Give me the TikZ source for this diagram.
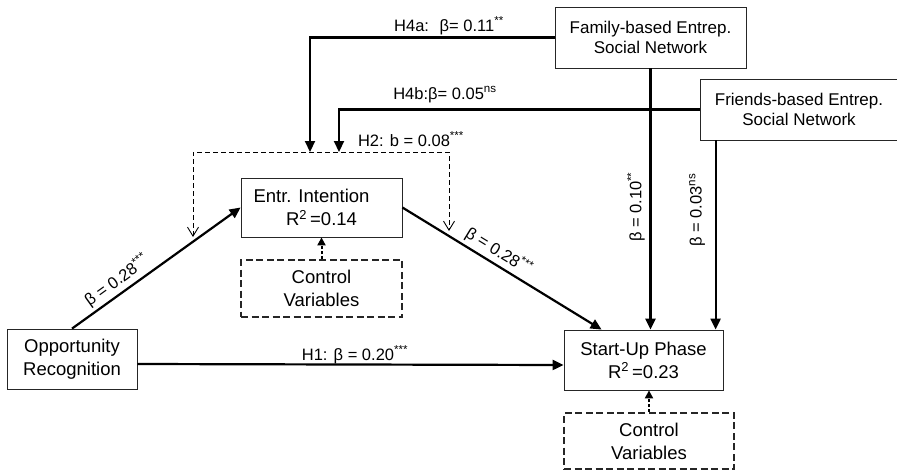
\documentclass[tikz,border=0pt]{standalone}
\usepackage{fontspec}
\setmainfont{Liberation Sans}
\usetikzlibrary{arrows.meta,calc}
\begin{document}
\begin{tikzpicture}[x=1pt,y=-1pt,
  box/.style={draw=black!85, line width=0.8pt, inner sep=0pt, align=center, font=\fontsize{18.5}{23}\selectfont},
  netbox/.style={box, font=\fontsize{17}{20}\selectfont},
  cbox/.style={box, line width=2pt, dash pattern=on 7pt off 3.5pt},
  conn/.style={line width=2.2pt, -{Triangle[length=11pt,width=10pt]}},
  carr/.style={line width=2pt, dash pattern=on 3pt off 2pt, -{Triangle[length=8pt,width=8pt]}},
  med/.style={line width=0.9pt, dash pattern=on 5pt off 3pt, {Straight Barb[length=9pt,width=11pt]}-{Straight Barb[length=9pt,width=11pt]}},
  lbl/.style={font=\fontsize{16.5}{19}\selectfont, inner sep=0pt}]
\useasboundingbox (0,0) rectangle (897,471);

% boxes
\node[netbox, minimum width=191pt, minimum height=61pt] (fam) at (650.5,37.5) {Family-based Entrep.\\Social Network};
\node[netbox, minimum width=198pt, minimum height=61pt] (fr) at (799,109.5) {Friends-based Entrep.\\Social Network};
\node[box, minimum width=161pt, minimum height=59pt] (ei) at (321.5,207.5) {Entr. Intention\hspace*{20pt}\\R\textsuperscript{2}\,=0.14};
\node[cbox, minimum width=161pt, minimum height=57pt] (cv1) at (321.5,288.5) {Control\\Variables};
\node[box, minimum width=130pt, minimum height=60pt] (or) at (72,359) {Opportunity\\Recognition};
\node[box, minimum width=159pt, minimum height=60pt] (su) at (643.5,360) {Start-Up Phase\\R\textsuperscript{2}\,=0.23};
\node[cbox, minimum width=170pt, minimum height=56pt] (cv2) at (649,441) {Control\\Variables};

% helper coordinates
\coordinate (h4a) at (310,152);
\coordinate (h4b) at (339,152);
\coordinate (ml) at (193,237);
\coordinate (mtl) at (193,152);
\coordinate (mtr) at (449,152);
\coordinate (mr) at (449,231);
\coordinate (sun) at ([xshift=38pt]su.north west);
\coordinate (frd) at ([xshift=16pt]fr.south west);

% mediation dashed path
\draw[med] (ml) -- (mtl) -- (mtr) -- (mr);

% connectors
\draw[conn] (fam.west) -| (h4a);
\draw[conn] (fr.west) -| (h4b);
\draw[conn] (fam.south) -- (fam.south |- su.north);
\draw[conn] (frd) -- (frd |- su.north);
\draw[conn] (or.north) -- (ei.west);
\draw[conn] (ei.east) -- (sun);
\draw[conn] ([yshift=-5pt]or.east) -- ([yshift=-5pt]su.west);
\draw[carr] (cv1.north) -- (ei.south);
\draw[carr] (cv2.north) -- (cv2.north |- su.south);

% labels
\node[lbl, anchor=base] (l4a) at (449,31) {H4a:~ β= 0.11\textsuperscript{**}};
\node[lbl, anchor=base] (l4b) at (445,99) {H4b:β= 0.05\textsuperscript{ns}};
\node[lbl, anchor=base] (l2) at (411,146) {H2: b = 0.08\textsuperscript{***}};
\node[lbl, anchor=base] (l1) at (355,360) {H1: β = 0.20\textsuperscript{***}};
\path (or.north) -- node[lbl, sloped, above=4pt, pos=0.31] (la) {β = 0.28\textsuperscript{***}} (ei.west);
\path (ei.east) -- node[lbl, sloped, above=4pt, pos=0.45] (lb) {β = 0.28\textsuperscript{***}} (sun);
\node[lbl, rotate=90] (l10) at (636,207) {β = 0.10\textsuperscript{**}};
\node[lbl, rotate=90] (l03) at (697,210) {β = 0.03\textsuperscript{ns}};
\end{tikzpicture}
\end{document}
